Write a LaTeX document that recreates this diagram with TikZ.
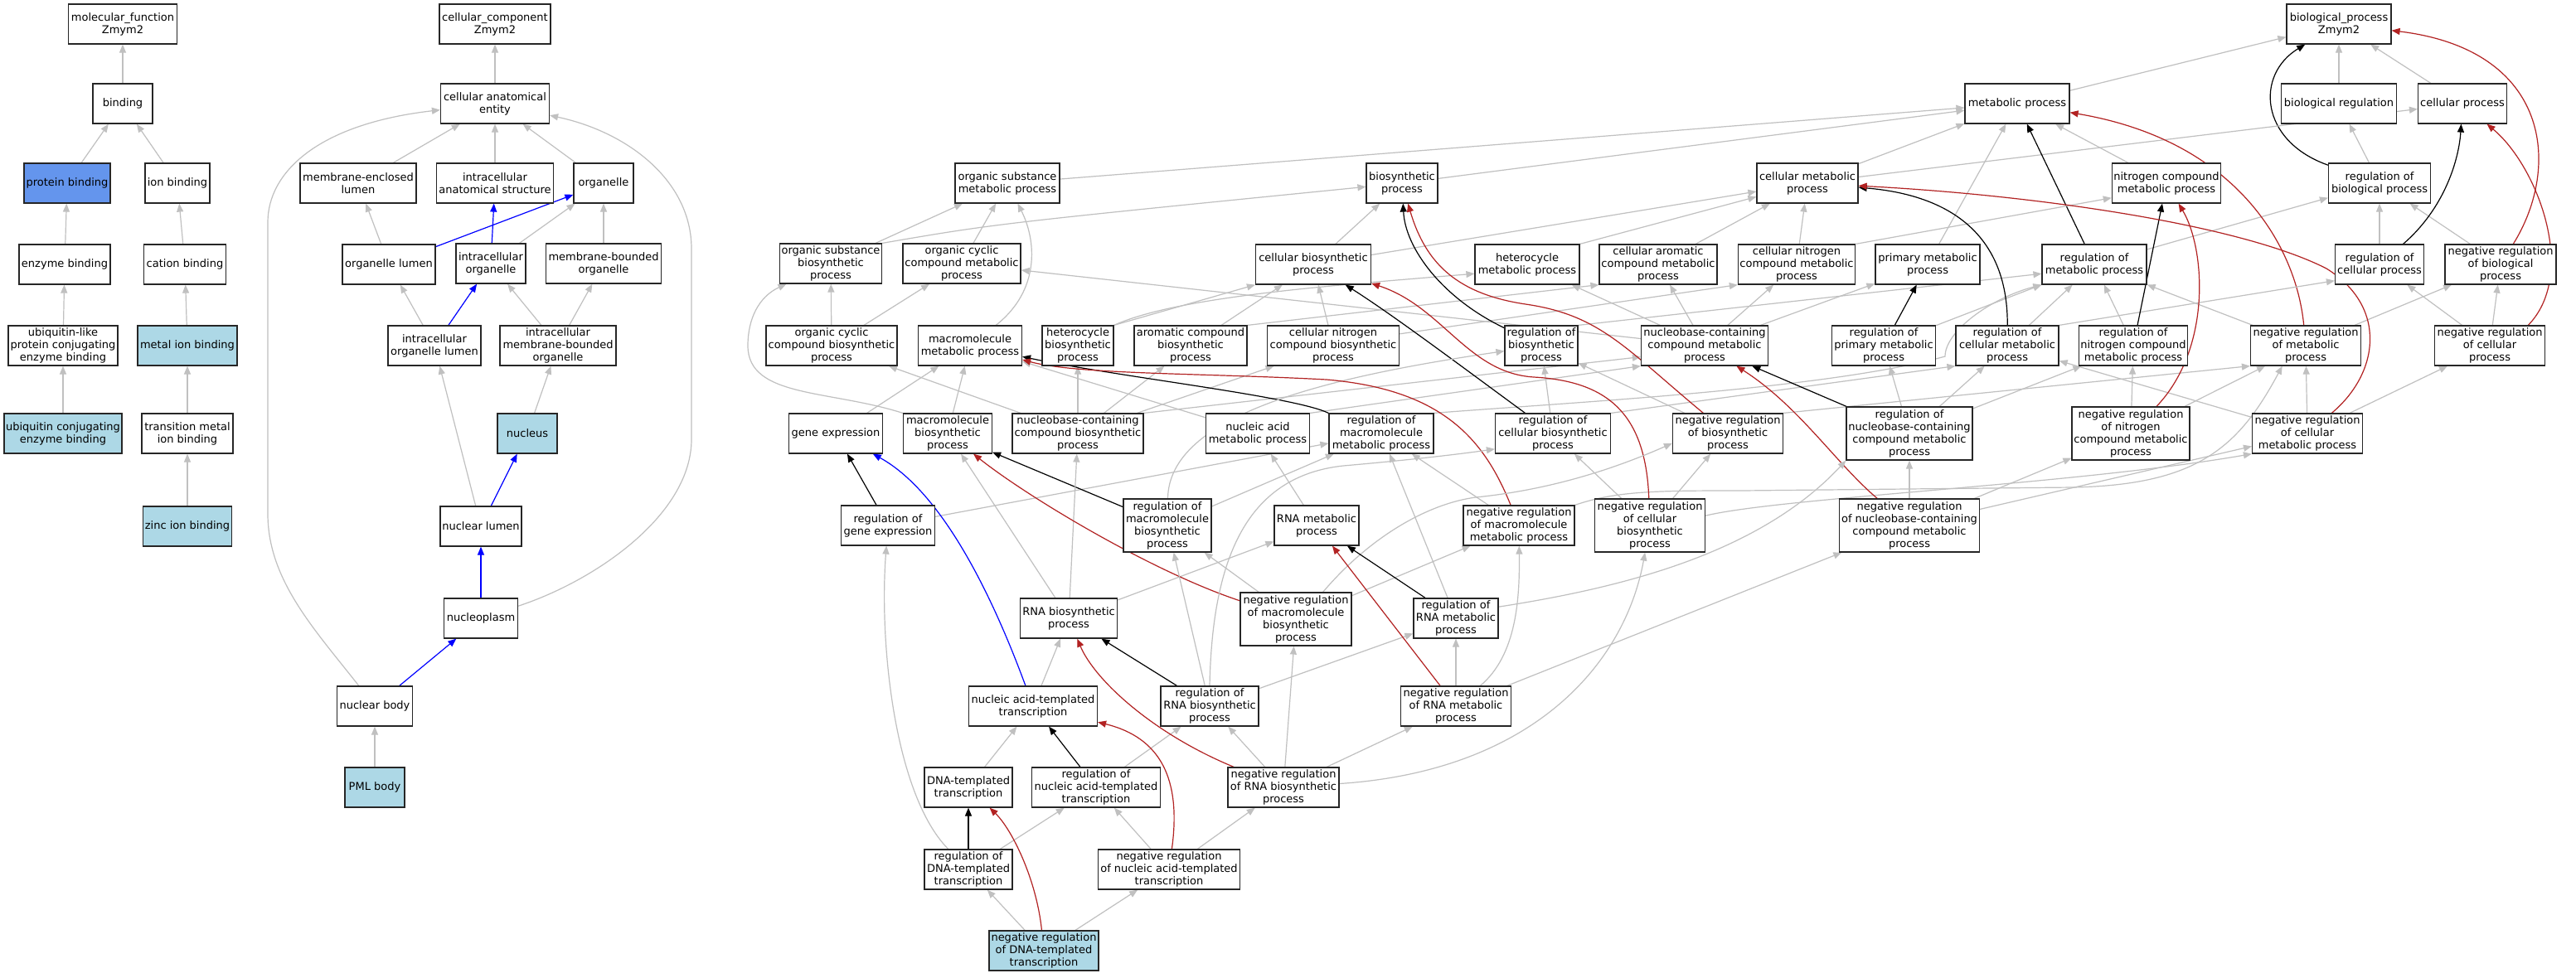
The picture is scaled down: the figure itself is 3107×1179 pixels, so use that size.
\documentclass[tikz,border=0pt]{standalone}
\usepackage{fontspec}
\setmainfont{DejaVu Sans}
\usetikzlibrary{arrows.meta}
\pgfdeclarelayer{back}
\pgfdeclarelayer{bg}
\pgfsetlayers{back,bg,main}
\definecolor{isagray}{HTML}{C0C0C0}
\definecolor{negred}{HTML}{B22222}
\definecolor{lblue}{HTML}{ADD8E6}
\definecolor{cblue}{HTML}{6495ED}
\begin{document}
\begin{tikzpicture}[x=1pt,y=-1pt,
  gonode/.style={draw=black!85, line width=1.2pt, fill=white, rectangle, align=center,
    minimum height=48pt, inner xsep=2pt, inner ysep=1pt, font=\fontsize{13}{15}\selectfont},
  tallnode/.style={minimum height=64pt},
  lbfill/.style={fill=lblue},
  isa/.style={draw=isagray, line width=1.2pt, -{Triangle[length=10pt,width=8pt]}},
  partof/.style={draw=blue, line width=1.2pt, -{Triangle[length=10pt,width=8pt]}},
  regl/.style={draw=black, line width=1.2pt, -{Triangle[length=10pt,width=8pt]}},
  negreg/.style={draw=negred, line width=1.2pt, -{Triangle[length=10pt,width=8pt]}}]
\begin{pgfonlayer}{back}
\fill[white] (0,0) rectangle (3107,1179);
\end{pgfonlayer}
\useasboundingbox (0,0) rectangle (3107,1179);

% ---------------- molecular function ----------------
\node[gonode,minimum width=131pt] (mf) at (148,29) {molecular\_function\\Zmym2};
\node[gonode,minimum width=72pt] (binding) at (148,125) {binding};
\node[gonode,fill=cblue,minimum width=104pt] (protbind) at (81,221) {protein binding};
\node[gonode,minimum width=78pt] (ionbind) at (214,221) {ion binding};
\node[gonode,minimum width=110pt] (enzbind) at (78,319) {enzyme binding};
\node[gonode,minimum width=99pt] (catbind) at (223,319) {cation binding};
\node[gonode,minimum width=132pt] (ubllike) at (76,417) {ubiquitin-like\\protein conjugating\\enzyme binding};
\node[gonode,lbfill,minimum width=120pt] (metalbind) at (226,417) {metal ion binding};
\node[gonode,lbfill,minimum width=142pt] (ubconj) at (76,523) {ubiquitin conjugating\\enzyme binding};
\node[gonode,minimum width=110pt] (transmetal) at (226,523) {transition metal\\ion binding};
\node[gonode,lbfill,minimum width=107pt] (zinc) at (226,635) {zinc ion binding};

% ---------------- cellular component ----------------
\node[gonode,minimum width=134pt] (cc) at (597,29) {cellular\_component\\Zmym2};
\node[gonode,minimum width=131pt] (cae) at (597,125) {cellular anatomical\\entity};
\node[gonode,minimum width=140pt] (mel) at (432,221) {membrane-enclosed\\lumen};
\node[gonode,minimum width=141pt] (ias) at (597,221) {intracellular\\anatomical structure};
\node[gonode,minimum width=72pt] (organelle) at (728,221) {organelle};
\node[gonode,minimum width=112pt] (orglumen) at (469,319) {organelle lumen};
\node[gonode,minimum width=84pt] (intorg) at (592,318) {intracellular\\organelle};
\node[gonode,minimum width=139pt] (mbo) at (728,318) {membrane-bounded\\organelle};
\node[gonode,minimum width=112pt] (iol) at (524,417) {intracellular\\organelle lumen};
\node[gonode,minimum width=140pt] (imbo) at (673,417) {intracellular\\membrane-bounded\\organelle};
\node[gonode,lbfill,minimum width=72pt] (nucleus) at (636,523) {nucleus};
\node[gonode,minimum width=98pt] (nuclumen) at (580,635) {nuclear lumen};
\node[gonode,minimum width=89pt] (nucleoplasm) at (580,746) {nucleoplasm};
\node[gonode,minimum width=91pt] (nucbody) at (452,852) {nuclear body};
\node[gonode,lbfill,minimum width=72pt] (pml) at (452,950) {PML body};

% ---------------- biological process ----------------
\node[gonode,minimum width=126pt] (bp) at (2821,29) {biological\_process\\Zmym2};
\node[gonode,minimum width=126pt] (metab) at (2433,125) {metabolic process};
\node[gonode,minimum width=139pt] (bioreg) at (2821,125) {biological regulation};
\node[gonode,minimum width=107pt] (cellproc) at (2970,125) {cellular process};
\node[gonode,minimum width=126pt] (osmp) at (1215,221) {organic substance\\metabolic process};
\node[gonode,minimum width=86pt] (biosyn) at (1691,221) {biosynthetic\\process};
\node[gonode,minimum width=122pt] (cmp) at (2180,221) {cellular metabolic\\process};
\node[gonode,minimum width=131pt] (ncmp) at (2613,221) {nitrogen compound\\metabolic process};
\node[gonode,minimum width=123pt] (rbp) at (2870,221) {regulation of\\biological process};
\node[gonode,minimum width=123pt] (osbp) at (1002,318) {organic substance\\biosynthetic\\process};
\node[gonode,minimum width=142pt] (occmp) at (1160,318) {organic cyclic\\compound metabolic\\process};
\node[gonode,minimum width=139pt] (cbp) at (1584,319) {cellular biosynthetic\\process};
\node[gonode,minimum width=126pt] (hmp) at (1842,319) {heterocycle\\metabolic process};
\node[gonode,minimum width=142pt] (cacmp) at (2000,319) {cellular aromatic\\compound metabolic\\process};
\node[gonode,minimum width=141pt] (cncmp) at (2167,319) {cellular nitrogen\\compound metabolic\\process};
\node[gonode,minimum width=126pt] (pmp) at (2325,319) {primary metabolic\\process};
\node[gonode,minimum width=126pt] (rmp) at (2526,319) {regulation of\\metabolic process};
\node[gonode,minimum width=107pt] (rcp) at (2870,319) {regulation of\\cellular process};
\node[gonode,minimum width=134pt] (nrbp) at (3016,319) {negative regulation\\of biological\\process};
\node[gonode,minimum width=158pt] (occbp) at (1003,417) {organic cyclic\\compound biosynthetic\\process};
\node[gonode,minimum width=125pt] (mmp) at (1170,417) {macromolecule\\metabolic process};
\node[gonode,minimum width=86pt] (hbp) at (1300,417) {heterocycle\\biosynthetic\\process};
\node[gonode,minimum width=136pt] (acbp) at (1436,417) {aromatic compound\\biosynthetic\\process};
\node[gonode,minimum width=159pt] (cncbp) at (1608,417) {cellular nitrogen\\compound biosynthetic\\process};
\node[gonode,minimum width=88pt] (rbsp) at (1859,417) {regulation of\\biosynthetic\\process};
\node[gonode,minimum width=153pt] (nbcmp) at (2056,417) {nucleobase-containing\\compound metabolic\\process};
\node[gonode,minimum width=125pt] (rpmp) at (2272,417) {regulation of\\primary metabolic\\process};
\node[gonode,minimum width=124pt] (rcmp) at (2421,417) {regulation of\\cellular metabolic\\process};
\node[gonode,minimum width=131pt] (rncmp) at (2573,417) {regulation of\\nitrogen compound\\metabolic process};
\node[gonode,minimum width=133pt] (nrmp) at (2781,417) {negative regulation\\of metabolic\\process};
\node[gonode,minimum width=133pt] (nrcp) at (3003,417) {negative regulation\\of cellular\\process};
\node[gonode,minimum width=113pt] (geneexp) at (1008,523) {gene expression};
\node[gonode,minimum width=107pt] (mbp) at (1143,523) {macromolecule\\biosynthetic\\process};
\node[gonode,minimum width=158pt] (nbcbp) at (1300,523) {nucleobase-containing\\compound biosynthetic\\process};
\node[gonode,minimum width=125pt] (namp) at (1517,523) {nucleic acid\\metabolic process};
\node[gonode,minimum width=126pt] (rmmp) at (1666,523) {regulation of\\macromolecule\\metabolic process};
\node[gonode,minimum width=139pt] (rcbp) at (1873,523) {regulation of\\cellular biosynthetic\\process};
\node[gonode,minimum width=133pt] (nrbsp) at (2084,523) {negative regulation\\of biosynthetic\\process};
\node[gonode,tallnode,minimum width=152pt] (rnbcmp) at (2303,523) {regulation of\\nucleobase-containing\\compound metabolic\\process};
\node[gonode,tallnode,minimum width=142pt] (nrncmp) at (2570,523) {negative regulation\\of nitrogen\\compound metabolic\\process};
\node[gonode,minimum width=133pt] (nrcmp) at (2783,523) {negative regulation\\of cellular\\metabolic process};
\node[gonode,minimum width=113pt] (rge) at (1071,634) {regulation of\\gene expression};
\node[gonode,tallnode,minimum width=106pt] (rmbp) at (1408,634) {regulation of\\macromolecule\\biosynthetic\\process};
\node[gonode,minimum width=102pt] (rnamp) at (1588,634) {RNA metabolic\\process};
\node[gonode,minimum width=134pt] (nrmmp) at (1832,634) {negative regulation\\of macromolecule\\metabolic process};
\node[gonode,tallnode,minimum width=133pt] (nrcbp) at (1990,634) {negative regulation\\of cellular\\biosynthetic\\process};
\node[gonode,tallnode,minimum width=169pt] (nrnbcmp) at (2303,634) {negative regulation\\of nucleobase-containing\\compound metabolic\\process};
\node[gonode,minimum width=117pt] (rnabp) at (1289,746) {RNA biosynthetic\\process};
\node[gonode,tallnode,minimum width=134pt] (nrmbp) at (1563,747) {negative regulation\\of macromolecule\\biosynthetic\\process};
\node[gonode,minimum width=102pt] (rrnamp) at (1756,746) {regulation of\\RNA metabolic\\process};
\node[gonode,minimum width=155pt] (natt) at (1246,852) {nucleic acid-templated\\transcription};
\node[gonode,minimum width=118pt] (rrnabp) at (1459,852) {regulation of\\RNA biosynthetic\\process};
\node[gonode,minimum width=133pt] (nrrnamp) at (1756,852) {negative regulation\\of RNA metabolic\\process};
\node[gonode,minimum width=106pt] (dtt) at (1168,950) {DNA-templated\\transcription};
\node[gonode,minimum width=155pt] (rnatt) at (1322,950) {regulation of\\nucleic acid-templated\\transcription};
\node[gonode,minimum width=134pt] (nrrnabp) at (1548,950) {negative regulation\\of RNA biosynthetic\\process};
\node[gonode,minimum width=106pt] (rdtt) at (1168,1049) {regulation of\\DNA-templated\\transcription};
\node[gonode,minimum width=171pt] (nrnatt) at (1410,1049) {negative regulation\\of nucleic acid-templated\\transcription};
\node[gonode,lbfill,minimum width=132pt] (nrdtt) at (1259,1147) {negative regulation\\of DNA-templated\\transcription};

\begin{pgfonlayer}{bg}
% MF edges
\draw[isa] (binding) -- (mf);
\draw[isa] (protbind) -- (binding);
\draw[isa] (ionbind) -- (binding);
\draw[isa] (enzbind) -- (protbind);
\draw[isa] (catbind) -- (ionbind);
\draw[isa] (ubllike) -- (enzbind);
\draw[isa] (metalbind) -- (catbind);
\draw[isa] (ubconj) -- (ubllike);
\draw[isa] (transmetal) -- (metalbind);
\draw[isa] (zinc) -- (transmetal);

% CC edges
\draw[isa] (cae) -- (cc);
\draw[isa] (mel) -- (cae);
\draw[isa] (ias) -- (cae);
\draw[isa] (organelle) -- (cae);
\draw[isa] (orglumen) -- (mel);
\draw[partof] (orglumen) -- (organelle);
\draw[isa] (intorg) -- (organelle);
\draw[partof] (intorg) -- (ias);
\draw[isa] (mbo) -- (organelle);
\draw[isa] (iol) -- (orglumen);
\draw[partof] (iol) -- (intorg);
\draw[isa] (imbo) -- (intorg);
\draw[isa] (imbo) -- (mbo);
\draw[isa] (nucleus) -- (imbo);
\draw[isa] (nuclumen) -- (iol);
\draw[partof] (nuclumen) -- (nucleus);
\draw[partof] (nucleoplasm) -- (nuclumen);
\draw[isa] (nucleoplasm) .. controls (720,700) and (834,620) .. (834,530) -- (834,300) .. controls (834,220) and (760,160) .. (cae);
\draw[partof] (nucbody) -- (nucleoplasm);
\draw[isa] (nucbody) .. controls (380,760) and (323,700) .. (323,620) -- (323,268) .. controls (323,210) and (380,150) .. (cae);
\draw[isa] (pml) -- (nucbody);

% BP edges: top levels
\draw[isa] (metab) -- (bp);
\draw[isa] (bioreg) -- (bp);
\draw[isa] (cellproc) -- (bp);
\draw[regl] (rbp) .. controls (2725,170) and (2720,90) .. (bp);
\draw[isa] (rbp) -- (bioreg);
\draw[negreg] (nrbp) .. controls (3090,200) and (3075,60) .. (bp);
\draw[isa] (nrbp) -- (rbp);
\draw[isa] (cmp) -- (metab);
\draw[isa] (cmp) -- (cellproc);
\draw[isa] (ncmp) -- (metab);
\draw[isa] (osmp) -- (metab);
\draw[isa] (biosyn) -- (metab);
\draw[isa] (pmp) -- (metab);
\draw[regl] (rmp) -- (metab);
\draw[isa] (rmp) -- (rbp);
\draw[isa] (rcp) -- (rbp);
\draw[regl] (rcp) .. controls (2950,250) and (2966,190) .. (cellproc);
\draw[isa] (nrcp) -- (rcp);
\draw[isa] (nrcp) -- (nrbp);
\draw[negreg] (nrcp.28) .. controls (3110,330) and (3060,200) .. (cellproc);
\draw[isa] (nrmp) -- (rmp);
\draw[isa] (nrmp) -- (nrbp);
\draw[negreg] (nrmp) .. controls (2770,300) and (2700,170) .. (metab);

% metabolic / biosynthetic hierarchy
\draw[isa] (cbp) -- (biosyn);
\draw[isa] (cbp) -- (cmp);
\draw[isa] (hmp.north east) -- (cmp);
\draw[isa] (cacmp) -- (cmp);
\draw[isa] (cncmp) -- (cmp);
\draw[isa] (cncmp.north east) -- (ncmp.195);
\draw[isa] (osbp.north east) .. controls (1200,270) .. (biosyn);
\draw[isa] (osbp) -- (osmp);
\draw[isa] (occmp) -- (osmp);
\draw[isa] (occbp) -- (osbp);
\draw[isa] (occbp) -- (occmp);
\draw[isa] (mmp) .. controls (1255,350) and (1250,290) .. (osmp);
\draw[isa] (hbp.north east) .. controls (1420,358) and (1600,345) .. (hmp.190);
\draw[isa] (hbp.north east) -- (cbp.south west);
\draw[isa] (acbp.north east) -- (cacmp.south west);
\draw[isa] (acbp) -- (cbp);
\draw[isa] (cncbp) -- (cbp);
\draw[isa] (cncbp.10) -- (cncmp.south west);
\draw[isa] (nbcmp) -- (hmp);
\draw[isa] (nbcmp) -- (cacmp);
\draw[isa] (nbcmp) -- (cncmp);
\draw[isa] (nbcmp) -- (occmp);
\draw[isa] (nbcmp) -- (pmp);
\draw[isa] (nbcbp.north east) -- (nbcmp.190);
\draw[isa] (nbcbp) -- (cncbp);
\draw[isa] (nbcbp) -- (hbp);
\draw[isa] (nbcbp) -- (acbp);
\draw[isa] (nbcbp) -- (occbp);
\draw[isa] (mbp) -- (mmp);
\draw[isa] (mbp.north west) .. controls (1000,470) and (902,480) .. (902,417) .. controls (902,385) and (915,358) .. (osbp);
\draw[isa] (namp.north east) -- (nbcmp.south west);
\draw[isa] (namp) -- (mmp);
\draw[isa] (geneexp) -- (mmp);

% regulation layer
\draw[regl] (rge) -- (geneexp);
\draw[isa] (rge) -- (rmmp);
\draw[regl] (rbsp) .. controls (1740,360) and (1695,300) .. (biosyn);
\draw[isa] (rbsp.north east) -- (rmp.190);
\draw[regl] (rmmp.north west) .. controls (1560,478) and (1350,455) .. (mmp);
\draw[isa] (rmmp.north east) .. controls (1900,485) and (2200,470) .. (2346,430) .. controls (2346,400) and (2400,360) .. (rmp.south west);
\draw[regl] (rcbp) .. controls (1760,440) and (1680,380) .. (cbp);
\draw[isa] (rcbp) -- (rbsp);
\draw[isa] (rcbp.north east) -- (rcmp.south west);
\draw[regl] (rpmp) -- (pmp);
\draw[isa] (rpmp) -- (rmp);
\draw[regl] (rcmp) .. controls (2422,290) and (2360,236) .. (cmp);
\draw[isa] (rcmp) -- (rmp);
\draw[isa] (rcmp.north east) -- (rcp.200);
\draw[regl] (rncmp) -- (ncmp);
\draw[isa] (rncmp) -- (rmp);
\draw[isa] (nrbsp) -- (rbsp);
\draw[negreg] (nrbsp) .. controls (1960,420) and (1930,380) .. (1840,367) .. controls (1760,355) and (1720,320) .. (biosyn);
\draw[isa] (nrbsp.north east) -- (nrmp.south west);
\draw[isa] (nrcmp) -- (rcmp);
\draw[isa] (nrcmp) -- (nrmp);
\draw[isa] (nrcmp) -- (nrcp);
\draw[negreg] (nrcmp) .. controls (2870,450) and (2880,370) .. (2806,324) .. controls (2700,270) and (2450,235) .. (cmp);
\draw[isa] (nrncmp) -- (rncmp);
\draw[isa] (nrncmp) -- (nrmp);
\draw[negreg] (nrncmp) .. controls (2668,420) and (2660,300) .. (ncmp);
\draw[regl] (rnbcmp) -- (nbcmp);
\draw[isa] (rnbcmp) -- (rpmp);
\draw[isa] (rnbcmp) -- (rcmp);
\draw[isa] (rnbcmp) -- (rncmp);
\draw[regl] (rmbp) -- (mbp);
\draw[isa] (rmbp) -- (rmmp);
\draw[isa] (rmbp) .. controls (1410,500) and (1600,455) .. (rbsp);
\draw[isa] (rnamp) -- (namp);
\draw[isa] (nrmmp) -- (rmmp);
\draw[isa] (nrmmp.north east) .. controls (1950,592) and (2000,592) .. (2100,592) -- (2500,588) .. controls (2650,585) and (2700,540) .. (nrmp.221);
\draw[negreg] (nrmmp) .. controls (1790,530) and (1740,470) .. (1600,458) .. controls (1450,450) and (1300,452) .. (mmp);
\draw[isa] (nrcbp) -- (rcbp);
\draw[isa] (nrcbp) -- (nrbsp);
\draw[negreg] (nrcbp) .. controls (1985,500) and (1940,460) .. (1850,455) .. controls (1770,450) and (1740,370) .. (cbp);
\draw[isa] (nrcbp.10) .. controls (2150,600) and (2500,585) .. (nrcmp.south west);
\draw[isa] (nrnbcmp) -- (rnbcmp);
\draw[isa] (nrnbcmp) -- (nrncmp);
\draw[isa] (nrnbcmp) -- (nrcmp);
\draw[negreg] (nrnbcmp) .. controls (2215,560) and (2170,490) .. (nbcmp);

% RNA / transcription layer
\draw[isa] (rnabp) -- (rnamp);
\draw[isa] (rnabp) -- (nbcbp);
\draw[isa] (rnabp) -- (mbp);
\draw[isa] (nrmbp) -- (rmbp);
\draw[negreg] (nrmbp) .. controls (1390,690) and (1240,600) .. (mbp);
\draw[isa] (nrmbp) -- (nrmmp);
\draw[isa] (nrmbp.45) .. controls (1650,650) and (1720,608) .. (1780,600) .. controls (1880,590) and (1960,560) .. (nrbsp.190);
\draw[regl] (rrnamp) -- (rnamp);
\draw[isa] (rrnamp.15) .. controls (1950,710) and (2120,670) .. (rnbcmp.south west);
\draw[isa] (rrnamp) -- (rmmp);
\draw[isa] (natt) -- (rnabp);
\draw[partof] (natt) .. controls (1190,700) and (1130,590) .. (geneexp);
\draw[regl] (rrnabp) -- (rnabp);
\draw[isa] (rrnabp) -- (rrnamp);
\draw[isa] (rrnabp) -- (rmbp);
\draw[isa] (rrnabp.north) .. controls (1462,680) and (1500,575) .. (1620,562) .. controls (1700,555) and (1760,548) .. (rcbp.195);
\draw[isa] (nrrnamp) -- (rrnamp);
\draw[negreg] (nrrnamp) -- (rnamp);
\draw[isa] (nrrnamp) -- (nrnbcmp);
\draw[isa] (nrrnamp.40) .. controls (1830,790) and (1833,720) .. (nrmmp);
\draw[isa] (dtt) -- (natt);
\draw[regl] (rnatt) -- (natt);
\draw[isa] (rnatt) -- (rrnabp);
\draw[isa] (nrrnabp) -- (rrnabp);
\draw[isa] (nrrnabp) -- (nrrnamp);
\draw[isa] (nrrnabp) -- (nrmbp);
\draw[negreg] (nrrnabp) .. controls (1390,885) and (1320,820) .. (rnabp);
\draw[isa] (nrrnabp) .. controls (1850,930) and (1960,800) .. (nrcbp);
\draw[regl] (rdtt) -- (dtt);
\draw[isa] (rdtt) -- (rnatt);
\draw[isa] (rdtt) .. controls (1080,960) and (1060,780) .. (rge);
\draw[isa] (nrnatt) -- (rnatt);
\draw[isa] (nrnatt) -- (nrrnabp);
\draw[negreg] (nrnatt) .. controls (1425,940) and (1400,890) .. (natt);
\draw[isa] (nrdtt) -- (rdtt);
\draw[isa] (nrdtt) -- (nrnatt);
\draw[negreg] (nrdtt) .. controls (1250,1060) and (1220,1000) .. (dtt);
\end{pgfonlayer}
\end{tikzpicture}
\end{document}
